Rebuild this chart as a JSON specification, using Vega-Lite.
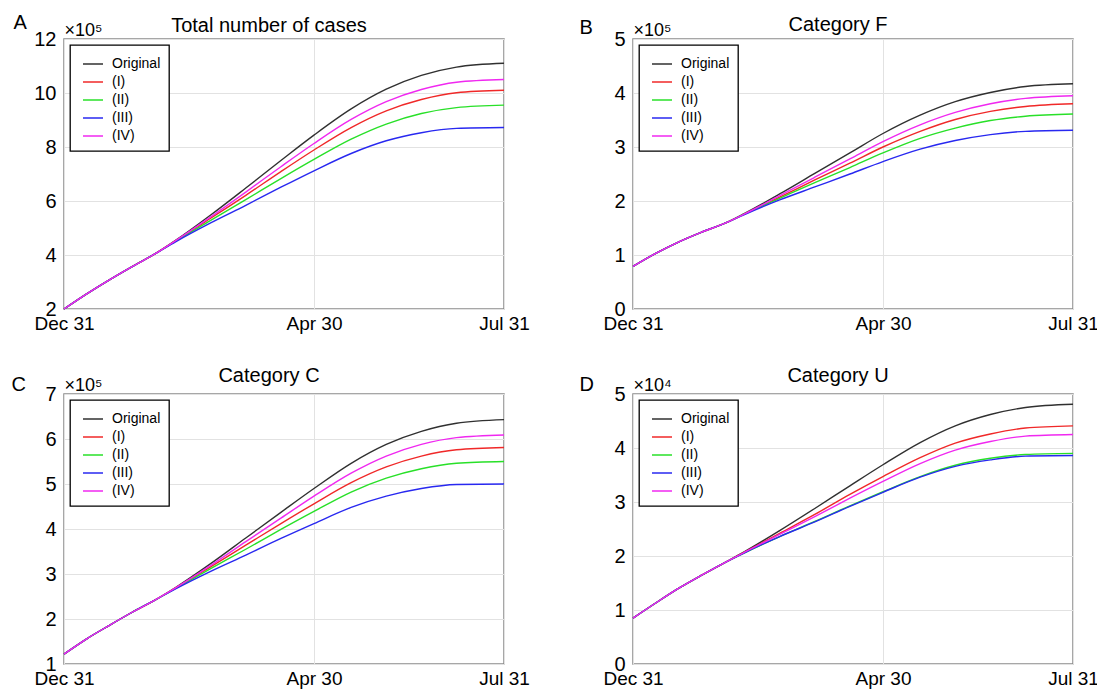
{
  "$schema": "https://vega.github.io/schema/vega-lite/v6.json",
  "background": "white",
  "padding": {"left": 10, "top": 11, "right": 5, "bottom": 5},
  "data": {"values": [
    {"panel":"A","series":"Original","date":"2019-12-31","cases":200000},{"panel":"A","series":"Original","date":"2020-01-11","cases":256000},{"panel":"A","series":"Original","date":"2020-01-22","cases":308000},{"panel":"A","series":"Original","date":"2020-02-02","cases":357000},{"panel":"A","series":"Original","date":"2020-02-13","cases":404000},{"panel":"A","series":"Original","date":"2020-02-23","cases":454000},{"panel":"A","series":"Original","date":"2020-03-11","cases":548000},{"panel":"A","series":"Original","date":"2020-03-28","cases":648000},{"panel":"A","series":"Original","date":"2020-04-14","cases":750000},{"panel":"A","series":"Original","date":"2020-04-30","cases":844000},{"panel":"A","series":"Original","date":"2020-05-18","cases":941000},{"panel":"A","series":"Original","date":"2020-06-04","cases":1014000},{"panel":"A","series":"Original","date":"2020-06-21","cases":1065000},{"panel":"A","series":"Original","date":"2020-07-08","cases":1096000},{"panel":"A","series":"Original","date":"2020-07-31","cases":1110000},
    {"panel":"A","series":"(I)","date":"2019-12-31","cases":200000},{"panel":"A","series":"(I)","date":"2020-01-11","cases":256000},{"panel":"A","series":"(I)","date":"2020-01-22","cases":308000},{"panel":"A","series":"(I)","date":"2020-02-02","cases":357000},{"panel":"A","series":"(I)","date":"2020-02-13","cases":404000},{"panel":"A","series":"(I)","date":"2020-02-23","cases":452000},{"panel":"A","series":"(I)","date":"2020-03-11","cases":536000},{"panel":"A","series":"(I)","date":"2020-03-28","cases":621000},{"panel":"A","series":"(I)","date":"2020-04-14","cases":709000},{"panel":"A","series":"(I)","date":"2020-04-30","cases":789000},{"panel":"A","series":"(I)","date":"2020-05-18","cases":872000},{"panel":"A","series":"(I)","date":"2020-06-04","cases":934000},{"panel":"A","series":"(I)","date":"2020-06-21","cases":976000},{"panel":"A","series":"(I)","date":"2020-07-08","cases":1001000},{"panel":"A","series":"(I)","date":"2020-07-31","cases":1010000},
    {"panel":"A","series":"(II)","date":"2019-12-31","cases":200000},{"panel":"A","series":"(II)","date":"2020-01-11","cases":256000},{"panel":"A","series":"(II)","date":"2020-01-22","cases":308000},{"panel":"A","series":"(II)","date":"2020-02-02","cases":357000},{"panel":"A","series":"(II)","date":"2020-02-13","cases":404000},{"panel":"A","series":"(II)","date":"2020-02-23","cases":451000},{"panel":"A","series":"(II)","date":"2020-03-11","cases":528000},{"panel":"A","series":"(II)","date":"2020-03-28","cases":605000},{"panel":"A","series":"(II)","date":"2020-04-14","cases":683000},{"panel":"A","series":"(II)","date":"2020-04-30","cases":754000},{"panel":"A","series":"(II)","date":"2020-05-18","cases":829000},{"panel":"A","series":"(II)","date":"2020-06-04","cases":885000},{"panel":"A","series":"(II)","date":"2020-06-21","cases":924000},{"panel":"A","series":"(II)","date":"2020-07-08","cases":946000},{"panel":"A","series":"(II)","date":"2020-07-31","cases":955000},
    {"panel":"A","series":"(III)","date":"2019-12-31","cases":200000},{"panel":"A","series":"(III)","date":"2020-01-11","cases":256000},{"panel":"A","series":"(III)","date":"2020-01-22","cases":308000},{"panel":"A","series":"(III)","date":"2020-02-02","cases":357000},{"panel":"A","series":"(III)","date":"2020-02-13","cases":404000},{"panel":"A","series":"(III)","date":"2020-02-23","cases":449000},{"panel":"A","series":"(III)","date":"2020-03-11","cases":519000},{"panel":"A","series":"(III)","date":"2020-03-28","cases":584000},{"panel":"A","series":"(III)","date":"2020-04-14","cases":651000},{"panel":"A","series":"(III)","date":"2020-04-30","cases":712000},{"panel":"A","series":"(III)","date":"2020-05-18","cases":776000},{"panel":"A","series":"(III)","date":"2020-06-04","cases":823000},{"panel":"A","series":"(III)","date":"2020-06-21","cases":853000},{"panel":"A","series":"(III)","date":"2020-07-08","cases":869000},{"panel":"A","series":"(III)","date":"2020-07-31","cases":872000},
    {"panel":"A","series":"(IV)","date":"2019-12-31","cases":200000},{"panel":"A","series":"(IV)","date":"2020-01-11","cases":256000},{"panel":"A","series":"(IV)","date":"2020-01-22","cases":308000},{"panel":"A","series":"(IV)","date":"2020-02-02","cases":357000},{"panel":"A","series":"(IV)","date":"2020-02-13","cases":404000},{"panel":"A","series":"(IV)","date":"2020-02-23","cases":453000},{"panel":"A","series":"(IV)","date":"2020-03-11","cases":541000},{"panel":"A","series":"(IV)","date":"2020-03-28","cases":633000},{"panel":"A","series":"(IV)","date":"2020-04-14","cases":727000},{"panel":"A","series":"(IV)","date":"2020-04-30","cases":813000},{"panel":"A","series":"(IV)","date":"2020-05-18","cases":902000},{"panel":"A","series":"(IV)","date":"2020-06-04","cases":968000},{"panel":"A","series":"(IV)","date":"2020-06-21","cases":1013000},{"panel":"A","series":"(IV)","date":"2020-07-08","cases":1040000},{"panel":"A","series":"(IV)","date":"2020-07-31","cases":1050000},

    {"panel":"B","series":"Original","date":"2019-12-31","cases":79000},{"panel":"B","series":"Original","date":"2020-01-11","cases":103000},{"panel":"B","series":"Original","date":"2020-01-22","cases":124000},{"panel":"B","series":"Original","date":"2020-02-02","cases":142000},{"panel":"B","series":"Original","date":"2020-02-13","cases":158000},{"panel":"B","series":"Original","date":"2020-02-23","cases":177000},{"panel":"B","series":"Original","date":"2020-03-11","cases":213000},{"panel":"B","series":"Original","date":"2020-03-28","cases":251000},{"panel":"B","series":"Original","date":"2020-04-14","cases":289000},{"panel":"B","series":"Original","date":"2020-04-30","cases":325000},{"panel":"B","series":"Original","date":"2020-05-18","cases":359000},{"panel":"B","series":"Original","date":"2020-06-04","cases":384000},{"panel":"B","series":"Original","date":"2020-06-21","cases":401000},{"panel":"B","series":"Original","date":"2020-07-08","cases":412000},{"panel":"B","series":"Original","date":"2020-07-31","cases":417000},
    {"panel":"B","series":"(I)","date":"2019-12-31","cases":79000},{"panel":"B","series":"(I)","date":"2020-01-11","cases":103000},{"panel":"B","series":"(I)","date":"2020-01-22","cases":124000},{"panel":"B","series":"(I)","date":"2020-02-02","cases":142000},{"panel":"B","series":"(I)","date":"2020-02-13","cases":158000},{"panel":"B","series":"(I)","date":"2020-02-23","cases":176000},{"panel":"B","series":"(I)","date":"2020-03-11","cases":207000},{"panel":"B","series":"(I)","date":"2020-03-28","cases":239000},{"panel":"B","series":"(I)","date":"2020-04-14","cases":270000},{"panel":"B","series":"(I)","date":"2020-04-30","cases":300000},{"panel":"B","series":"(I)","date":"2020-05-18","cases":329000},{"panel":"B","series":"(I)","date":"2020-06-04","cases":351000},{"panel":"B","series":"(I)","date":"2020-06-21","cases":366000},{"panel":"B","series":"(I)","date":"2020-07-08","cases":375000},{"panel":"B","series":"(I)","date":"2020-07-31","cases":380000},
    {"panel":"B","series":"(II)","date":"2019-12-31","cases":79000},{"panel":"B","series":"(II)","date":"2020-01-11","cases":103000},{"panel":"B","series":"(II)","date":"2020-01-22","cases":124000},{"panel":"B","series":"(II)","date":"2020-02-02","cases":142000},{"panel":"B","series":"(II)","date":"2020-02-13","cases":158000},{"panel":"B","series":"(II)","date":"2020-02-23","cases":176000},{"panel":"B","series":"(II)","date":"2020-03-11","cases":205000},{"panel":"B","series":"(II)","date":"2020-03-28","cases":234000},{"panel":"B","series":"(II)","date":"2020-04-14","cases":262000},{"panel":"B","series":"(II)","date":"2020-04-30","cases":289000},{"panel":"B","series":"(II)","date":"2020-05-18","cases":316000},{"panel":"B","series":"(II)","date":"2020-06-04","cases":335000},{"panel":"B","series":"(II)","date":"2020-06-21","cases":349000},{"panel":"B","series":"(II)","date":"2020-07-08","cases":357000},{"panel":"B","series":"(II)","date":"2020-07-31","cases":361000},
    {"panel":"B","series":"(III)","date":"2019-12-31","cases":79000},{"panel":"B","series":"(III)","date":"2020-01-11","cases":103000},{"panel":"B","series":"(III)","date":"2020-01-22","cases":124000},{"panel":"B","series":"(III)","date":"2020-02-02","cases":142000},{"panel":"B","series":"(III)","date":"2020-02-13","cases":158000},{"panel":"B","series":"(III)","date":"2020-02-23","cases":175000},{"panel":"B","series":"(III)","date":"2020-03-11","cases":202000},{"panel":"B","series":"(III)","date":"2020-03-28","cases":226000},{"panel":"B","series":"(III)","date":"2020-04-14","cases":250000},{"panel":"B","series":"(III)","date":"2020-04-30","cases":273000},{"panel":"B","series":"(III)","date":"2020-05-18","cases":296000},{"panel":"B","series":"(III)","date":"2020-06-04","cases":312000},{"panel":"B","series":"(III)","date":"2020-06-21","cases":323000},{"panel":"B","series":"(III)","date":"2020-07-08","cases":329000},{"panel":"B","series":"(III)","date":"2020-07-31","cases":331000},
    {"panel":"B","series":"(IV)","date":"2019-12-31","cases":79000},{"panel":"B","series":"(IV)","date":"2020-01-11","cases":103000},{"panel":"B","series":"(IV)","date":"2020-01-22","cases":124000},{"panel":"B","series":"(IV)","date":"2020-02-02","cases":142000},{"panel":"B","series":"(IV)","date":"2020-02-13","cases":158000},{"panel":"B","series":"(IV)","date":"2020-02-23","cases":176000},{"panel":"B","series":"(IV)","date":"2020-03-11","cases":210000},{"panel":"B","series":"(IV)","date":"2020-03-28","cases":244000},{"panel":"B","series":"(IV)","date":"2020-04-14","cases":278000},{"panel":"B","series":"(IV)","date":"2020-04-30","cases":310000},{"panel":"B","series":"(IV)","date":"2020-05-18","cases":341000},{"panel":"B","series":"(IV)","date":"2020-06-04","cases":364000},{"panel":"B","series":"(IV)","date":"2020-06-21","cases":380000},{"panel":"B","series":"(IV)","date":"2020-07-08","cases":390000},{"panel":"B","series":"(IV)","date":"2020-07-31","cases":395000},

    {"panel":"C","series":"Original","date":"2019-12-31","cases":122000},{"panel":"C","series":"Original","date":"2020-01-11","cases":156000},{"panel":"C","series":"Original","date":"2020-01-22","cases":186000},{"panel":"C","series":"Original","date":"2020-02-02","cases":215000},{"panel":"C","series":"Original","date":"2020-02-13","cases":242000},{"panel":"C","series":"Original","date":"2020-02-23","cases":270000},{"panel":"C","series":"Original","date":"2020-03-11","cases":323000},{"panel":"C","series":"Original","date":"2020-03-28","cases":380000},{"panel":"C","series":"Original","date":"2020-04-14","cases":437000},{"panel":"C","series":"Original","date":"2020-04-30","cases":490000},{"panel":"C","series":"Original","date":"2020-05-18","cases":546000},{"panel":"C","series":"Original","date":"2020-06-04","cases":588000},{"panel":"C","series":"Original","date":"2020-06-21","cases":617000},{"panel":"C","series":"Original","date":"2020-07-08","cases":635000},{"panel":"C","series":"Original","date":"2020-07-31","cases":643000},
    {"panel":"C","series":"(I)","date":"2019-12-31","cases":122000},{"panel":"C","series":"(I)","date":"2020-01-11","cases":156000},{"panel":"C","series":"(I)","date":"2020-01-22","cases":186000},{"panel":"C","series":"(I)","date":"2020-02-02","cases":215000},{"panel":"C","series":"(I)","date":"2020-02-13","cases":242000},{"panel":"C","series":"(I)","date":"2020-02-23","cases":269000},{"panel":"C","series":"(I)","date":"2020-03-11","cases":316000},{"panel":"C","series":"(I)","date":"2020-03-28","cases":364000},{"panel":"C","series":"(I)","date":"2020-04-14","cases":412000},{"panel":"C","series":"(I)","date":"2020-04-30","cases":456000},{"panel":"C","series":"(I)","date":"2020-05-18","cases":503000},{"panel":"C","series":"(I)","date":"2020-06-04","cases":538000},{"panel":"C","series":"(I)","date":"2020-06-21","cases":562000},{"panel":"C","series":"(I)","date":"2020-07-08","cases":576000},{"panel":"C","series":"(I)","date":"2020-07-31","cases":581000},
    {"panel":"C","series":"(II)","date":"2019-12-31","cases":122000},{"panel":"C","series":"(II)","date":"2020-01-11","cases":156000},{"panel":"C","series":"(II)","date":"2020-01-22","cases":186000},{"panel":"C","series":"(II)","date":"2020-02-02","cases":215000},{"panel":"C","series":"(II)","date":"2020-02-13","cases":242000},{"panel":"C","series":"(II)","date":"2020-02-23","cases":268000},{"panel":"C","series":"(II)","date":"2020-03-11","cases":312000},{"panel":"C","series":"(II)","date":"2020-03-28","cases":355000},{"panel":"C","series":"(II)","date":"2020-04-14","cases":399000},{"panel":"C","series":"(II)","date":"2020-04-30","cases":439000},{"panel":"C","series":"(II)","date":"2020-05-18","cases":482000},{"panel":"C","series":"(II)","date":"2020-06-04","cases":513000},{"panel":"C","series":"(II)","date":"2020-06-21","cases":534000},{"panel":"C","series":"(II)","date":"2020-07-08","cases":546000},{"panel":"C","series":"(II)","date":"2020-07-31","cases":550000},
    {"panel":"C","series":"(III)","date":"2019-12-31","cases":122000},{"panel":"C","series":"(III)","date":"2020-01-11","cases":156000},{"panel":"C","series":"(III)","date":"2020-01-22","cases":186000},{"panel":"C","series":"(III)","date":"2020-02-02","cases":215000},{"panel":"C","series":"(III)","date":"2020-02-13","cases":242000},{"panel":"C","series":"(III)","date":"2020-02-23","cases":267000},{"panel":"C","series":"(III)","date":"2020-03-11","cases":306000},{"panel":"C","series":"(III)","date":"2020-03-28","cases":342000},{"panel":"C","series":"(III)","date":"2020-04-14","cases":379000},{"panel":"C","series":"(III)","date":"2020-04-30","cases":412000},{"panel":"C","series":"(III)","date":"2020-05-18","cases":448000},{"panel":"C","series":"(III)","date":"2020-06-04","cases":473000},{"panel":"C","series":"(III)","date":"2020-06-21","cases":490000},{"panel":"C","series":"(III)","date":"2020-07-08","cases":499000},{"panel":"C","series":"(III)","date":"2020-07-31","cases":500000},
    {"panel":"C","series":"(IV)","date":"2019-12-31","cases":122000},{"panel":"C","series":"(IV)","date":"2020-01-11","cases":156000},{"panel":"C","series":"(IV)","date":"2020-01-22","cases":186000},{"panel":"C","series":"(IV)","date":"2020-02-02","cases":215000},{"panel":"C","series":"(IV)","date":"2020-02-13","cases":242000},{"panel":"C","series":"(IV)","date":"2020-02-23","cases":269000},{"panel":"C","series":"(IV)","date":"2020-03-11","cases":319000},{"panel":"C","series":"(IV)","date":"2020-03-28","cases":372000},{"panel":"C","series":"(IV)","date":"2020-04-14","cases":424000},{"panel":"C","series":"(IV)","date":"2020-04-30","cases":473000},{"panel":"C","series":"(IV)","date":"2020-05-18","cases":524000},{"panel":"C","series":"(IV)","date":"2020-06-04","cases":562000},{"panel":"C","series":"(IV)","date":"2020-06-21","cases":588000},{"panel":"C","series":"(IV)","date":"2020-07-08","cases":603000},{"panel":"C","series":"(IV)","date":"2020-07-31","cases":609000},

    {"panel":"D","series":"Original","date":"2019-12-31","cases":8500},{"panel":"D","series":"Original","date":"2020-01-11","cases":11300},{"panel":"D","series":"Original","date":"2020-01-22","cases":14000},{"panel":"D","series":"Original","date":"2020-02-02","cases":16400},{"panel":"D","series":"Original","date":"2020-02-13","cases":18700},{"panel":"D","series":"Original","date":"2020-02-23","cases":20800},{"panel":"D","series":"Original","date":"2020-03-11","cases":24700},{"panel":"D","series":"Original","date":"2020-03-28","cases":28800},{"panel":"D","series":"Original","date":"2020-04-14","cases":33000},{"panel":"D","series":"Original","date":"2020-04-30","cases":36900},{"panel":"D","series":"Original","date":"2020-05-18","cases":41000},{"panel":"D","series":"Original","date":"2020-06-04","cases":44100},{"panel":"D","series":"Original","date":"2020-06-21","cases":46200},{"panel":"D","series":"Original","date":"2020-07-08","cases":47500},{"panel":"D","series":"Original","date":"2020-07-31","cases":48100},
    {"panel":"D","series":"(I)","date":"2019-12-31","cases":8500},{"panel":"D","series":"(I)","date":"2020-01-11","cases":11300},{"panel":"D","series":"(I)","date":"2020-01-22","cases":14000},{"panel":"D","series":"(I)","date":"2020-02-02","cases":16400},{"panel":"D","series":"(I)","date":"2020-02-13","cases":18700},{"panel":"D","series":"(I)","date":"2020-02-23","cases":20700},{"panel":"D","series":"(I)","date":"2020-03-11","cases":24200},{"panel":"D","series":"(I)","date":"2020-03-28","cases":27700},{"panel":"D","series":"(I)","date":"2020-04-14","cases":31400},{"panel":"D","series":"(I)","date":"2020-04-30","cases":34700},{"panel":"D","series":"(I)","date":"2020-05-18","cases":38200},{"panel":"D","series":"(I)","date":"2020-06-04","cases":40900},{"panel":"D","series":"(I)","date":"2020-06-21","cases":42600},{"panel":"D","series":"(I)","date":"2020-07-08","cases":43700},{"panel":"D","series":"(I)","date":"2020-07-31","cases":44100},
    {"panel":"D","series":"(II)","date":"2019-12-31","cases":8500},{"panel":"D","series":"(II)","date":"2020-01-11","cases":11300},{"panel":"D","series":"(II)","date":"2020-01-22","cases":14000},{"panel":"D","series":"(II)","date":"2020-02-02","cases":16400},{"panel":"D","series":"(II)","date":"2020-02-13","cases":18700},{"panel":"D","series":"(II)","date":"2020-02-23","cases":20600},{"panel":"D","series":"(II)","date":"2020-03-11","cases":23600},{"panel":"D","series":"(II)","date":"2020-03-28","cases":26400},{"panel":"D","series":"(II)","date":"2020-04-14","cases":29300},{"panel":"D","series":"(II)","date":"2020-04-30","cases":31900},{"panel":"D","series":"(II)","date":"2020-05-18","cases":34700},{"panel":"D","series":"(II)","date":"2020-06-04","cases":36800},{"panel":"D","series":"(II)","date":"2020-06-21","cases":38100},{"panel":"D","series":"(II)","date":"2020-07-08","cases":38800},{"panel":"D","series":"(II)","date":"2020-07-31","cases":39000},
    {"panel":"D","series":"(III)","date":"2019-12-31","cases":8500},{"panel":"D","series":"(III)","date":"2020-01-11","cases":11300},{"panel":"D","series":"(III)","date":"2020-01-22","cases":14000},{"panel":"D","series":"(III)","date":"2020-02-02","cases":16400},{"panel":"D","series":"(III)","date":"2020-02-13","cases":18700},{"panel":"D","series":"(III)","date":"2020-02-23","cases":20600},{"panel":"D","series":"(III)","date":"2020-03-11","cases":23600},{"panel":"D","series":"(III)","date":"2020-03-28","cases":26300},{"panel":"D","series":"(III)","date":"2020-04-14","cases":29200},{"panel":"D","series":"(III)","date":"2020-04-30","cases":31800},{"panel":"D","series":"(III)","date":"2020-05-18","cases":34600},{"panel":"D","series":"(III)","date":"2020-06-04","cases":36600},{"panel":"D","series":"(III)","date":"2020-06-21","cases":37800},{"panel":"D","series":"(III)","date":"2020-07-08","cases":38500},{"panel":"D","series":"(III)","date":"2020-07-31","cases":38600},
    {"panel":"D","series":"(IV)","date":"2019-12-31","cases":8500},{"panel":"D","series":"(IV)","date":"2020-01-11","cases":11300},{"panel":"D","series":"(IV)","date":"2020-01-22","cases":14000},{"panel":"D","series":"(IV)","date":"2020-02-02","cases":16400},{"panel":"D","series":"(IV)","date":"2020-02-13","cases":18700},{"panel":"D","series":"(IV)","date":"2020-02-23","cases":20700},{"panel":"D","series":"(IV)","date":"2020-03-11","cases":24000},{"panel":"D","series":"(IV)","date":"2020-03-28","cases":27300},{"panel":"D","series":"(IV)","date":"2020-04-14","cases":30700},{"panel":"D","series":"(IV)","date":"2020-04-30","cases":33800},{"panel":"D","series":"(IV)","date":"2020-05-18","cases":37100},{"panel":"D","series":"(IV)","date":"2020-06-04","cases":39600},{"panel":"D","series":"(IV)","date":"2020-06-21","cases":41200},{"panel":"D","series":"(IV)","date":"2020-07-08","cases":42200},{"panel":"D","series":"(IV)","date":"2020-07-31","cases":42500}
  ]},
  "columns": 2,
  "spacing": {"row": 85, "column": 129},
  "bounds": "flush",
  "concat": [
    {
      "title": {"text": "Total number of cases", "dx": -15, "offset": -24},
      "width": 440, "height": 270,
      "transform": [{"filter": "datum.panel === 'A'"}],
      "mark": {"type": "line", "strokeWidth": 1.4, "interpolate": "monotone"},
      "encoding": {
        "x": {"field": "date", "type": "temporal",
              "scale": {"type": "utc", "domain": [{"year": 2019, "month": 12, "date": 31, "utc": true}, {"year": 2020, "month": 7, "date": 31, "utc": true}]},
              "axis": {"values": [{"year": 2019, "month": 12, "date": 31, "utc": true}, {"year": 2020, "month": 4, "date": 30, "utc": true}, {"year": 2020, "month": 7, "date": 31, "utc": true}], "format": "%b %d", "title": "A", "titleX": -51, "titleY": -281}},
        "y": {"field": "cases", "type": "quantitative",
              "scale": {"domain": [200000, 1200000], "nice": false, "zero": false},
              "axis": {"values": [200000, 400000, 600000, 800000, 1000000, 1200000], "labelExpr": "datum.value / 100000", "title": "×10⁵"}},
        "color": {"field": "series", "type": "nominal",
                  "scale": {"domain": ["Original", "(I)", "(II)", "(III)", "(IV)"], "range": ["#303030", "#f02828", "#28e028", "#2828f0", "#f028f0"]},
                  "legend": {"title": null}}
      }
    },
    {
      "title": {"text": "Category F", "dx": -15, "offset": -18},
      "width": 440, "height": 270,
      "transform": [{"filter": "datum.panel === 'B'"}],
      "mark": {"type": "line", "strokeWidth": 1.4, "interpolate": "monotone"},
      "encoding": {
        "x": {"field": "date", "type": "temporal",
              "scale": {"type": "utc", "domain": [{"year": 2019, "month": 12, "date": 31, "utc": true}, {"year": 2020, "month": 7, "date": 31, "utc": true}]},
              "axis": {"values": [{"year": 2019, "month": 12, "date": 31, "utc": true}, {"year": 2020, "month": 4, "date": 30, "utc": true}, {"year": 2020, "month": 7, "date": 31, "utc": true}], "format": "%b %d", "title": "B", "titleX": -54, "titleY": -276}},
        "y": {"field": "cases", "type": "quantitative",
              "scale": {"domain": [0, 500000], "nice": false},
              "axis": {"values": [0, 100000, 200000, 300000, 400000, 500000], "labelExpr": "datum.value / 100000", "title": "×10⁵"}},
        "color": {"field": "series", "type": "nominal",
                  "scale": {"domain": ["Original", "(I)", "(II)", "(III)", "(IV)"], "range": ["#303030", "#f02828", "#28e028", "#2828f0", "#f028f0"]},
                  "legend": {"title": null}}
      }
    },
    {
      "title": {"text": "Category C", "dx": -15, "offset": -12},
      "width": 440, "height": 270,
      "transform": [{"filter": "datum.panel === 'C'"}],
      "mark": {"type": "line", "strokeWidth": 1.4, "interpolate": "monotone"},
      "encoding": {
        "x": {"field": "date", "type": "temporal",
              "scale": {"type": "utc", "domain": [{"year": 2019, "month": 12, "date": 31, "utc": true}, {"year": 2020, "month": 7, "date": 31, "utc": true}]},
              "axis": {"values": [{"year": 2019, "month": 12, "date": 31, "utc": true}, {"year": 2020, "month": 4, "date": 30, "utc": true}, {"year": 2020, "month": 7, "date": 31, "utc": true}], "format": "%b %d", "title": "C", "titleX": -53, "titleY": -274}},
        "y": {"field": "cases", "type": "quantitative",
              "scale": {"domain": [100000, 700000], "nice": false, "zero": false},
              "axis": {"values": [100000, 200000, 300000, 400000, 500000, 600000, 700000], "labelExpr": "datum.value / 100000", "title": "×10⁵"}},
        "color": {"field": "series", "type": "nominal",
                  "scale": {"domain": ["Original", "(I)", "(II)", "(III)", "(IV)"], "range": ["#303030", "#f02828", "#28e028", "#2828f0", "#f028f0"]},
                  "legend": {"title": null}}
      }
    },
    {
      "title": {"text": "Category U", "dx": -15, "offset": -12},
      "width": 440, "height": 270,
      "transform": [{"filter": "datum.panel === 'D'"}],
      "mark": {"type": "line", "strokeWidth": 1.4, "interpolate": "monotone"},
      "encoding": {
        "x": {"field": "date", "type": "temporal",
              "scale": {"type": "utc", "domain": [{"year": 2019, "month": 12, "date": 31, "utc": true}, {"year": 2020, "month": 7, "date": 31, "utc": true}]},
              "axis": {"values": [{"year": 2019, "month": 12, "date": 31, "utc": true}, {"year": 2020, "month": 4, "date": 30, "utc": true}, {"year": 2020, "month": 7, "date": 31, "utc": true}], "format": "%b %d", "title": "D", "titleX": -54, "titleY": -274}},
        "y": {"field": "cases", "type": "quantitative",
              "scale": {"domain": [0, 50000], "nice": false},
              "axis": {"values": [0, 10000, 20000, 30000, 40000, 50000], "labelExpr": "datum.value / 10000", "title": "×10⁴"}},
        "color": {"field": "series", "type": "nominal",
                  "scale": {"domain": ["Original", "(I)", "(II)", "(III)", "(IV)"], "range": ["#303030", "#f02828", "#28e028", "#2828f0", "#f028f0"]},
                  "legend": {"title": null}}
      }
    }
  ],
  "resolve": {"scale": {"x": "independent", "y": "independent", "color": "independent"}, "axis": {"x": "independent", "y": "independent"}, "legend": {"color": "independent"}},
  "config": {
    "font": "Liberation Sans",
    "view": {"stroke": "#8a8a8a", "strokeWidth": 1.5},
    "axis": {"labelFont": "Liberation Sans", "titleFont": "Liberation Sans", "labelColor": "#000000", "titleColor": "#000000", "domain": false, "ticks": false, "grid": true, "gridColor": "#e2e2e2", "gridWidth": 1, "titleFontWeight": "normal", "labelOverlap": false},
    "axisX": {"labelFontSize": 19, "labelPadding": 5, "labelFlush": false, "titleFontSize": 20, "titleAngle": 0, "titleAlign": "left", "titleBaseline": "alphabetic"},
    "axisY": {"labelFontSize": 20, "labelPadding": 8, "titleFontSize": 18, "titleAngle": 0, "titleAlign": "left", "titleBaseline": "alphabetic", "titleX": 0, "titleY": -4},
    "title": {"font": "Liberation Sans", "fontSize": 20, "fontWeight": "normal", "color": "#000000"},
    "legend": {"orient": "top-left", "offset": 6, "padding": 8, "strokeColor": "#000000", "strokeWidth": 1.3, "fillColor": "#ffffff", "symbolType": "stroke", "symbolSize": 400, "symbolStrokeWidth": 1.5, "symbolOffset": 4, "labelFont": "Liberation Sans", "labelFontSize": 14, "labelColor": "#000000", "labelOffset": 8, "rowPadding": -7.5}
  }
}
